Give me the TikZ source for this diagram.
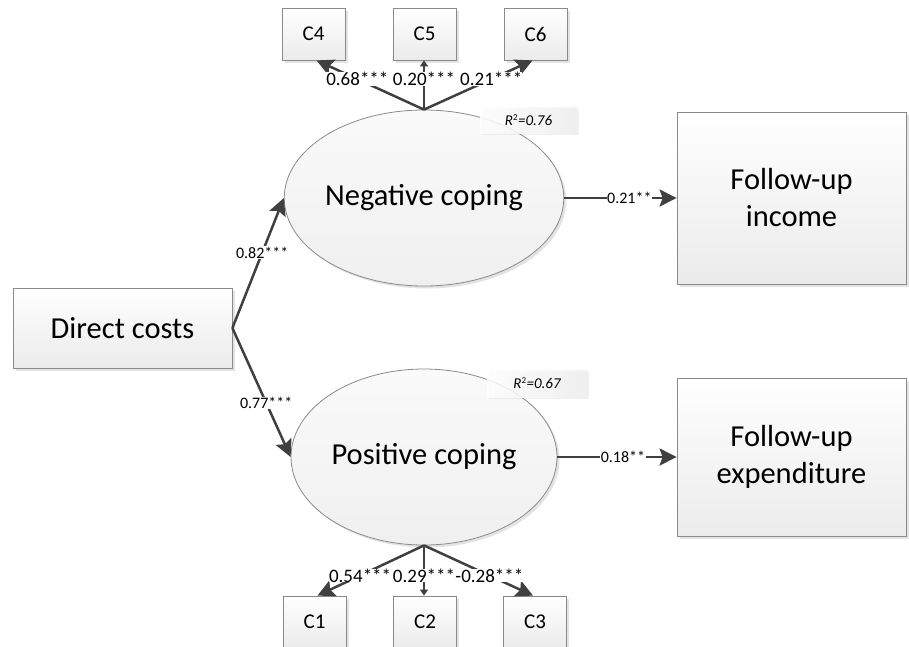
\documentclass[tikz,border=0pt]{standalone}
\usepackage{fontspec}
\setmainfont{Carlito}
\usepackage{xcolor}
\usetikzlibrary{arrows.meta,positioning,shadows,shapes.geometric}
\definecolor{edge}{HTML}{404040}
\definecolor{frame}{HTML}{8A8A8A}
\definecolor{wash}{HTML}{EBEBEB}
\tikzset{
  blk/.style={draw=frame, line width=0.8pt, top color=white, bottom color=wash,
              drop shadow={shadow xshift=2.5pt, shadow yshift=-2.5pt, opacity=0.22},
              align=center, inner sep=0pt},
  obs/.style={blk, font=\fontsize{30.5}{37}\selectfont},
  ind/.style={blk, minimum width=63pt, minimum height=52pt,
              font=\fontsize{21}{24}\selectfont},
  lat/.style={blk, ellipse, minimum width=266pt, minimum height=176pt,
              top color=gray!4, bottom color=gray!12,
              font=\fontsize{30.5}{36}\selectfont},
  rsq/.style={minimum width=97pt, minimum height=26pt, inner sep=0pt,
              left color=white, right color=gray!12, fill opacity=0.85,
              text opacity=1,
              drop shadow={shadow xshift=2pt, shadow yshift=-2pt, opacity=0.12},
              font=\fontsize{15}{17}\selectfont\itshape},
  ar/.style={draw=edge, line width=2.5pt,
             -{Stealth[length=17pt,width=17pt,inset=3pt]}},
  arsm/.style={draw=edge, line width=2.5pt,
             -{Triangle[length=6pt,width=8pt]}},
  lbl/.style={fill=white, inner sep=0.5pt, text=black,
              font=\fontsize{16}{18}\selectfont},
  lblc/.style={lbl, inner sep=0pt, font=\fontsize{19}{21}\selectfont},
}

\begin{document}
\begin{tikzpicture}[x=1pt, y=-1pt]
\useasboundingbox (0,0) rectangle (909,646);
\clip (0,0) rectangle (909,646);

% exogenous cost and the two latent factors
\node[obs, minimum width=219pt, minimum height=80pt] (dc) at (122.5,328) {Direct costs};
\node[lat] (neg) at (424,198) {Negative coping};
\node[lat] (pos) at (424,457) {Positive coping};

% outcomes
\node[obs, minimum width=229pt, minimum height=172pt] (inc) at (791.5,198) {Follow-up\\income};
\node[obs, minimum width=229pt, minimum height=158pt] (exp) at (791.5,457) {Follow-up\\expenditure};

% indicators
\node[ind] (c4) at (313.5,34) {C4};
\node[ind] (c5) at (424.5,34) {C5};
\node[ind] (c6) at (535.5,34) {C6};
\node[ind] (c1) at (314.5,622) {C1};
\node[ind] (c2) at (425,622) {C2};
\node[ind] (c3) at (535,622) {C3};

% explained variance
\node[rsq] (rneg) at (528.5,120) {R\textsuperscript{\upshape\fontsize{9}{9}\selectfont 2}=0.76};
\node[rsq, minimum width=100pt, minimum height=27pt] (rpos) at (537,383.5) {R\textsuperscript{\upshape\fontsize{9}{9}\selectfont 2}=0.67};

\draw[ar] (dc.east) -- node[lbl, pos=0.58] {0.82***} (neg.west);
\draw[ar] (dc.east) -- node[lbl, pos=0.58] {0.77***} (pos.west);
\draw[ar] (neg.east) -- node[lbl, pos=0.58] {0.21**} (inc.west);
\draw[ar] (pos.east) -- node[lbl, pos=0.55] {0.18**} (exp.west);

\draw[ar] (neg.north) -- node[lblc, pos=0.62] {0.68***} ([xshift=3pt]c4.south);
\draw[arsm] (neg.north) -- node[lblc, pos=0.62] {0.20***} (neg.north |- c5.south);
\draw[ar] (neg.north) -- node[lblc, pos=0.62] {0.21***} ([xshift=-3pt]c6.south);

\draw[ar] (pos.south) -- node[lblc, pos=0.6] {0.54***} ([xshift=3pt]c1.north);
\draw[arsm] (pos.south) -- node[lblc, pos=0.6] {0.29***} (pos.south |- c2.north);
\draw[ar] (pos.south) -- node[lblc, pos=0.6] {-0.28***} ([xshift=-2pt]c3.north);
\end{tikzpicture}
\end{document}
